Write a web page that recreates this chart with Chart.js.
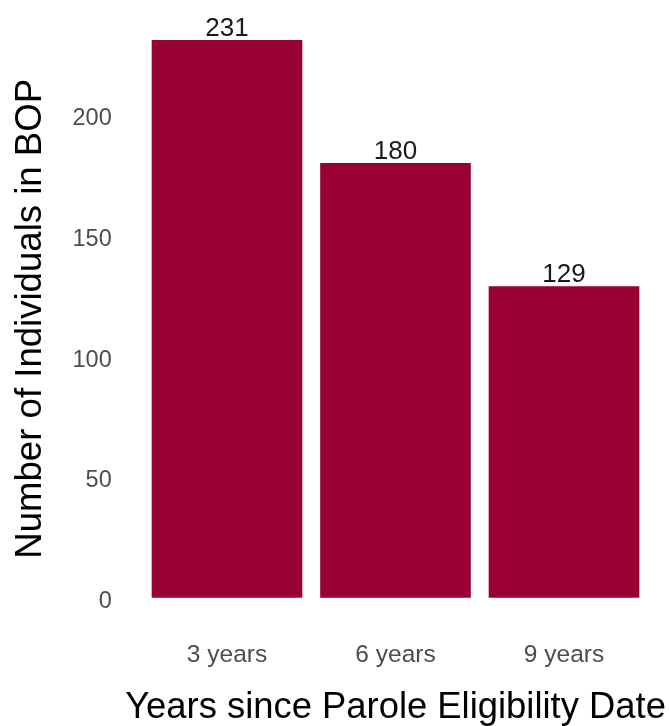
<!DOCTYPE html>
<html lang="en">
<head>
    <meta charset="UTF-8">
    <title>Individuals in BOP by Years since Parole Eligibility</title>
    <script src="https://cdn.jsdelivr.net/npm/chart.js"></script>
    <style>
        * { margin: 0; padding: 0; box-sizing: border-box; }
        body { background: #ffffff; }
        .chart-box { position: relative; width: 669px; height: 726px; }
    </style>
</head>
<body>
    <div class="chart-box">
        <canvas id="bopChart"></canvas>
    </div>
    <script>
        // Counts per group
        const categories = ['3 years', '6 years', '9 years'];
        const counts = [231, 180, 129];
        const yTicks = [0, 50, 100, 150, 200];
        const xTitle = 'Years since Parole Eligibility Date';

        const barColor = '#990033';
        const fontFamily = "'Liberation Sans', Arial, sans-serif";

        // 5% breathing room above and below the data range
        const yMax = Math.max(...counts);
        const yPad = yMax * 0.05;

        // Count above each bar, plus the x title drawn unsqueezed
        // (the built-in axis title gets clamped to the chart area width)
        const textLayer = {
            id: 'textLayer',
            afterDatasetsDraw(chart) {
                const ctx = chart.ctx;
                const meta = chart.getDatasetMeta(0);
                ctx.save();
                ctx.font = '26px ' + fontFamily;
                ctx.fillStyle = '#1a1a1a';
                ctx.textAlign = 'center';
                ctx.textBaseline = 'alphabetic';
                meta.data.forEach((bar, i) => {
                    ctx.fillText(String(counts[i]), bar.x, bar.y - 4);
                });

                const area = chart.chartArea;
                ctx.font = '36.4px ' + fontFamily;
                ctx.fillStyle = '#000000';
                ctx.fillText(xTitle, (area.left + area.right) / 2, chart.height - 8);
                ctx.restore();
            }
        };

        new Chart(document.getElementById('bopChart'), {
            type: 'bar',
            data: {
                labels: categories,
                datasets: [{
                    data: counts,
                    backgroundColor: barColor,
                    borderWidth: 0,
                    categoryPercentage: 1,
                    barPercentage: 0.894
                }]
            },
            options: {
                responsive: true,
                maintainAspectRatio: false,
                animation: false,
                layout: { padding: { top: 12, right: 20.75, left: 0, bottom: 0 } },
                plugins: {
                    legend: { display: false },
                    tooltip: { enabled: false }
                },
                scales: {
                    x: {
                        grid: { display: false, drawTicks: false },
                        border: { display: false },
                        ticks: {
                            color: '#4d4d4d',
                            font: { family: fontFamily, size: 24.5 },
                            padding: 15
                        },
                        title: { display: false },
                        afterFit(scale) { scale.height = 100.4; }
                    },
                    y: {
                        min: -yPad,
                        max: yMax + yPad,
                        grid: { display: false, drawTicks: false },
                        border: { display: false },
                        afterBuildTicks(scale) {
                            scale.ticks = yTicks.map(v => ({ value: v }));
                        },
                        ticks: {
                            color: '#4d4d4d',
                            font: { family: fontFamily, size: 23.5 },
                            padding: 31,
                            labelOffset: 4
                        },
                        title: {
                            display: true,
                            text: 'Number of Individuals in BOP',
                            color: '#000000',
                            font: { family: fontFamily, size: 36.6 },
                            padding: { top: 9, bottom: 0 }
                        },
                        afterFit(scale) {
                            scale.width = 142.75;
                            scale.paddingTop = 0;
                            scale.paddingBottom = 0;
                        }
                    }
                }
            },
            plugins: [textLayer]
        });
    </script>
</body>
</html>
